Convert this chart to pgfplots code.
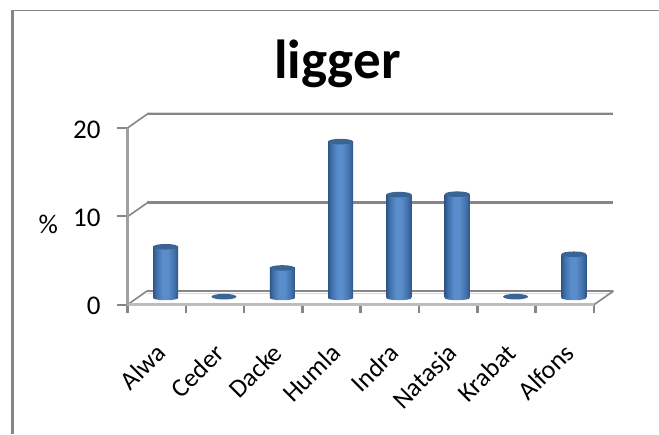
\documentclass[border=0pt]{standalone}
\usepackage{pgfplots}
\usepackage{pgfplotstable}
\pgfplotsset{compat=1.18}
\usepackage{fontspec}
\setmainfont{Carlito}
\definecolor{axisgray}{HTML}{868686}
\definecolor{spinegray}{HTML}{A0A0A0}
\definecolor{floorgray}{HTML}{BDBDBD}
\definecolor{palegray}{HTML}{D8D8D8}
\definecolor{cyltop}{HTML}{3A6494}
\definecolor{cyledge}{HTML}{2F5688}
\definecolor{cylmid}{HTML}{4272AB}
\definecolor{cylcentre}{HTML}{5A8DCB}
\pgfdeclarehorizontalshading{cylinder}{100bp}{
  color(0bp)=(cyledge);
  color(25bp)=(cyledge);
  color(32bp)=(cylmid);
  color(44bp)=(cylcentre);
  color(54bp)=(cylcentre);
  color(67bp)=(cylmid);
  color(75bp)=(cyledge);
  color(100bp)=(cyledge)}
% Ellipses that close the cylinders at top and bottom
\pgfdeclareplotmark{cylinder top}{%
  \pgfpathellipse{\pgfpointorigin}{\pgfqpoint{12.5pt}{0pt}}{\pgfqpoint{0pt}{2.8pt}}%
  \pgfsetfillcolor{cyltop}\pgfusepathqfill}
\pgfdeclareplotmark{cylinder base}{%
  \pgfpathellipse{\pgfpointorigin}{\pgfqpoint{12.5pt}{0pt}}{\pgfqpoint{0pt}{2.2pt}}%
  \pgfshadepath{cylinder}{0}\pgfusepath{discard}}
\pgfplotstableread{
idx value base
0 5.8 0
2 3.4 0
3 17.7 0
4 11.7 0
5 11.75 0
7 4.95 0
}\tallbars
\pgfplotstableread{
idx value
1 0.15
6 0.15
}\flatbars
\pgfplotsset{
  plane/.style={
    scale only axis, width=466.5pt, height=176.7pt,
    xmin=-0.5, xmax=7.5, ymin=0, ymax=20,
    anchor=south west, clip=false,
  },
  cylinder body/.style={ybar, bar width=25pt, bar shift=0pt, draw=none, shading=cylinder, forget plot},
}
\begin{document}
\begin{tikzpicture}[x=1pt,y=1pt]
\path[use as bounding box, fill=white] (0,0) rectangle (659,434);
% Chart frame
\fill[axisgray] (11,0) rectangle (14,424);
\fill[axisgray] (11,423) rectangle (659,424);
\node[font=\bfseries\fontsize{55}{58}\selectfont] at (337.5,370) {ligger};
% Back wall with its gridlines
\begin{axis}[plane, at={(147pt,143pt)},
  hide x axis, axis y line=none, xtick=\empty, ytick=\empty]
\addplot[palegray, line width=1.5pt, forget plot] coordinates {(-0.5,-0.3) (7.5,-0.3)};
\addplot[palegray, line width=1pt, forget plot] coordinates {(-0.5,20.25) (7.5,20.25)};
\addplot[axisgray, line width=2.3pt] coordinates {(-0.5,0) (7.5,0)};
\addplot[axisgray, line width=2.3pt] coordinates {(-0.5,10) (7.5,10)};
\addplot[axisgray, line width=2.3pt] coordinates {(-0.5,20) (7.5,20)};
\end{axis}
% Depth edges joining front and back planes
\foreach \y in {129.3,217.3,306}{
  \draw[axisgray, line width=1.6pt] (127.5,\y) -- ++(19.5,13.7);
}
\draw[axisgray, line width=1.6pt] (594,129.3) -- ++(19.5,13.7);
% Front plane: axis lines, ticks and labels
\begin{axis}[plane, at={(127.5pt,129.3pt)},
  axis x line=bottom, axis y line=left,
  x axis line style={draw=floorgray, line width=3pt, -},
  y axis line style={draw=spinegray, line width=2.5pt, -},
  xtick={0,...,7}, xticklabels={Alwa,Ceder,Dacke,Humla,Indra,Natasja,Krabat,Alfons},
  major x tick style={draw=none},
  minor xtick={-0.5,0.5,1.5,2.5,3.5,4.5,5.5,6.5,7.5},
  minor x tick style={draw=axisgray, line width=2.5pt},
  minor tick length=8pt, major tick length=10.5pt,
  ytick={0,10,20},
  ytick style={draw=axisgray, line width=2pt},
  tick align=outside,
  y tick label style={font=\fontsize{27}{29}\selectfont, xshift=-13pt, yshift=-1.5pt},
  x tick label style={font=\fontsize{26}{28}\selectfont, rotate=45, anchor=north east, xshift=-17pt, yshift=-14pt},
  /pgf/number format/assume math mode=true,
  ylabel={\%}, ylabel style={rotate=-90, at={(axis description cs:-0.17,0.457)}, anchor=center, font=\fontsize{27}{29}\selectfont},
]
\addplot[draw=none, forget plot] coordinates {(0,0)};
\end{axis}
% Cylinders, standing midway between the two planes
\begin{axis}[plane, at={(136.5pt,136pt)},
  hide x axis, axis y line=none, xtick=\empty, ytick=\empty]
\addplot[only marks, mark=cylinder base, forget plot] table[x=idx,y=base] {\tallbars};
\addplot[cylinder body] coordinates {(0,5.8)};
\addplot[cylinder body] coordinates {(2,3.4)};
\addplot[cylinder body] coordinates {(3,17.7)};
\addplot[cylinder body] coordinates {(4,11.7)};
\addplot[cylinder body] coordinates {(5,11.75)};
\addplot[cylinder body] coordinates {(7,4.95)};
\addplot[only marks, mark=cylinder top] table[x=idx,y=value] {\tallbars};
\addplot[only marks, mark=cylinder top] table[x=idx,y=value] {\flatbars};
\end{axis}
\end{tikzpicture}
\end{document}
